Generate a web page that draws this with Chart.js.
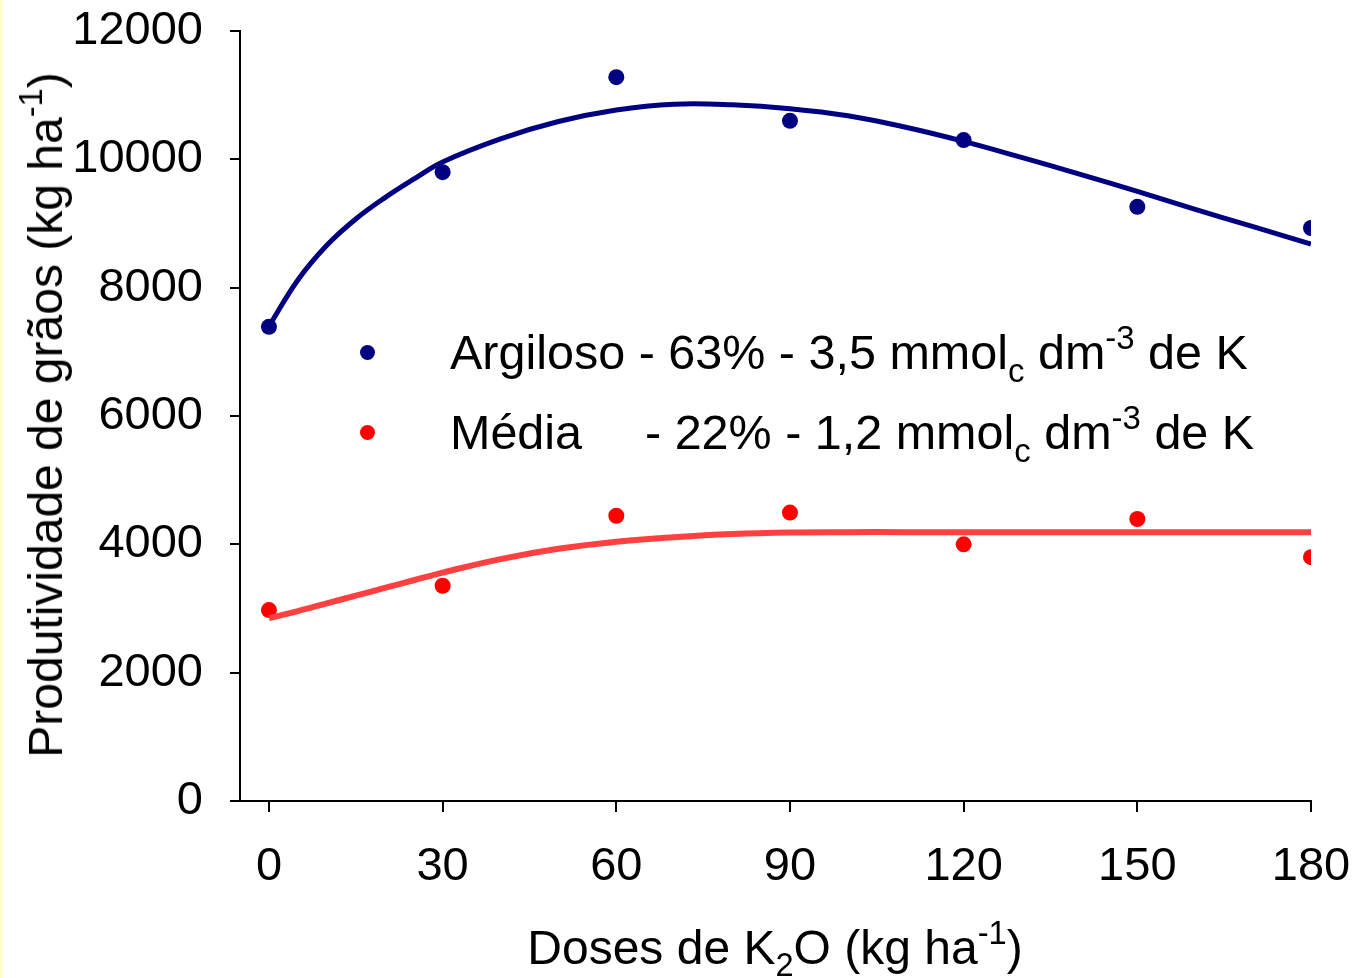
<!DOCTYPE html>
<html>
<head>
<meta charset="utf-8">
<script src="https://cdn.jsdelivr.net/npm/chart.js@4.4.1/dist/chart.umd.min.js"></script>
<style>
  body { margin: 0; background: #fff; font-family: "Liberation Sans", Arial, sans-serif; }
  #wrap { position: relative; width: 1354px; height: 978px; overflow: hidden; background: #fff; }
  #edge { position: absolute; left: 0; top: 0; width: 3px; height: 978px; background: #ffffcc; }
  .txt { position: absolute; white-space: nowrap; font-size: 48px; line-height: 1; color: #000; }
  .txt sub, .txt sup { font-size: 0.68em; vertical-align: baseline; position: relative; }
  .txt sub { top: 0.38em; }
  .txt sup { top: -0.62em; }
  #ytitle { left: 46px; top: 415px; transform: translate(-50%, -50%) rotate(-90deg); }
  #xtitle { left: 775px; top: 948px; transform: translate(-50%, -50%); }
  .leg { font-size: 48.5px; }
  .dot { position: absolute; width: 15px; height: 15px; border-radius: 50%; }
</style>
</head>
<body>
<div id="wrap">
  <canvas id="chart" width="1354" height="978"></canvas>
  <div id="edge"></div>
  <div class="txt" id="ytitle">Produtividade de grãos (kg ha<sup>-1</sup>)</div>
  <div class="txt" id="xtitle">Doses de K<sub>2</sub>O (kg ha<sup>-1</sup>)</div>
  <div class="dot" style="left:360px;top:345px;background:#000080"></div>
  <div class="dot" style="left:360px;top:425px;background:#ff0000"></div>
  <div class="txt leg" style="left:450px;top:328px">Argiloso - 63% - 3,5 mmol<sub>c</sub> dm<sup>-3</sup> de K</div>
  <div class="txt leg" style="left:450px;top:408px"><span style="display:inline-block;width:195px">Média</span>- 22% - 1,2 mmol<sub>c</sub> dm<sup>-3</sup> de K</div>
</div>
<script>
const FONT = "'Liberation Sans', Arial, sans-serif";

// observed means
const doses = [0, 30, 60, 90, 120, 150, 180];
const argiloso = [7390, 9800, 11280, 10600, 10300, 9260, 8930];
const media = [2975, 3355, 4445, 4495, 4000, 4395, 3800];

// fitted curves
const curveX = [0, 5, 10, 15, 20, 25, 30, 40, 50, 60, 70, 80, 90, 100, 110, 120, 130, 140, 150, 160, 170, 180];
const argilosoCurve = [7400, 8120, 8660, 9070, 9400, 9690, 9960, 10320, 10590, 10770, 10860, 10850, 10790, 10680, 10500, 10280, 10030, 9770, 9500, 9220, 8950, 8680];
const mediaCurve = [2850, 2960, 3080, 3200, 3320, 3440, 3560, 3770, 3930, 4040, 4110, 4160, 4185, 4190, 4190, 4190, 4190, 4190, 4190, 4190, 4190, 4190];

const yTicks = [0, 2000, 4000, 6000, 8000, 10000, 12000];

const pts = (xs, ys) => xs.map((x, i) => ({ x, y: ys[i] }));

new Chart(document.getElementById("chart"), {
  type: "scatter",
  data: {
    datasets: [
      {
        type: "line",
        data: pts(curveX, argilosoCurve),
        borderColor: "#000080",
        borderWidth: 5,
        pointRadius: 0,
        tension: 0.4,
        fill: false,
        order: 0,
      },
      {
        type: "line",
        data: pts(curveX, mediaCurve),
        borderColor: "#ff4040",
        borderWidth: 6,
        pointRadius: 0,
        tension: 0.4,
        fill: false,
        order: 0,
      },
      {
        data: pts(doses, argiloso),
        backgroundColor: "#000080",
        borderWidth: 0,
        pointRadius: 8,
        order: 1,
      },
      {
        data: pts(doses, media),
        backgroundColor: "#ff0000",
        borderWidth: 0,
        pointRadius: 8,
        order: 1,
      },
    ],
  },
  options: {
    responsive: false,
    animation: false,
    events: [],
    layout: { padding: { top: 31, right: 43, left: 0, bottom: 0 } },
    plugins: { legend: { display: false }, tooltip: { enabled: false } },
    scales: {
      x: {
        type: "linear",
        min: -5,
        max: 180,
        afterBuildTicks: (s) => { s.ticks = doses.map((v) => ({ value: v })); },
        afterFit: (s) => {
          s.height = 177;
          s.paddingLeft = 0;
          s.paddingRight = 0;
        },
        border: { color: "#000", width: 2 },
        grid: { drawOnChartArea: false, color: "#000", lineWidth: 2, tickLength: 11 },
        ticks: {
          color: "#000",
          font: { size: 47, family: FONT },
          padding: 27,
          maxRotation: 0,
          autoSkip: false,
          callback: (v) => String(v),
        },
      },
      y: {
        min: 0,
        max: 12000,
        afterBuildTicks: (s) => { s.ticks = yTicks.map((v) => ({ value: v })); },
        afterFit: (s) => {
          s.width = 240;
          s.paddingTop = 0;
          s.paddingBottom = 0;
        },
        border: { color: "#000", width: 2 },
        grid: { drawOnChartArea: false, color: "#000", lineWidth: 2, tickLength: 10 },
        ticks: {
          color: "#000",
          font: { size: 47, family: FONT },
          padding: 27,
          callback: (v) => String(v),
        },
      },
    },
  },
});
</script>
</body>
</html>
